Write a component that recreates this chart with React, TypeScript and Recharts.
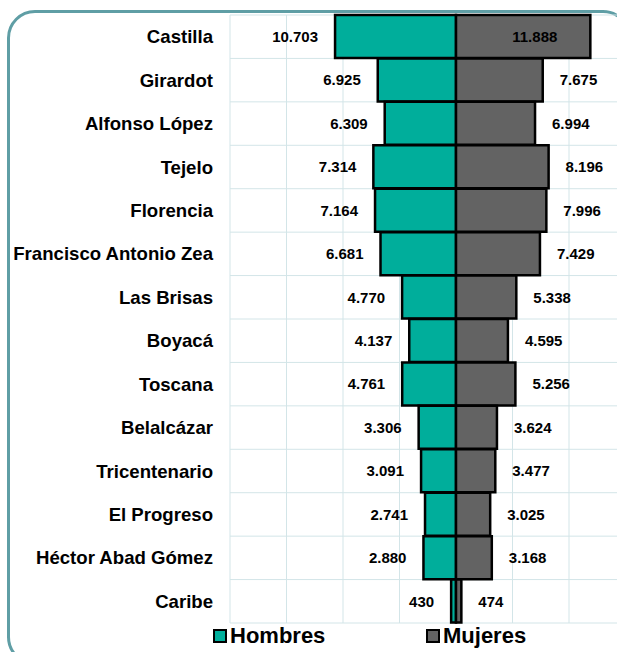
import React from "react";
import { BarChart, Bar, XAxis, YAxis, CartesianGrid, LabelList } from "recharts";

const categories = [
  "Castilla",
  "Girardot",
  "Alfonso López",
  "Tejelo",
  "Florencia",
  "Francisco Antonio Zea",
  "Las Brisas",
  "Boyacá",
  "Toscana",
  "Belalcázar",
  "Tricentenario",
  "El Progreso",
  "Héctor Abad Gómez",
  "Caribe",
];
const hombres = [10703, 6925, 6309, 7314, 7164, 6681, 4770, 4137, 4761, 3306, 3091, 2741, 2880, 430];
const mujeres = [11888, 7675, 6994, 8196, 7996, 7429, 5338, 4595, 5256, 3624, 3477, 3025, 3168, 474];
const seriesNames = ["Hombres", "Mujeres"];
const xTicks = [-20000, -15000, -10000, -5000, 0, 5000, 10000, 15000, 20000];

const TEAL = "#00ae9b";
const GRAY = "#636363";
const FONT = "'Liberation Sans', Arial, sans-serif";

const data = categories.map((name, i) => ({
  name,
  hombres: -hombres[i],
  mujeres: mujeres[i],
}));

const fmt = (v: number) =>
  String(Math.abs(Math.round(v))).replace(/\B(?=(\d{3})+(?!\d))/g, ".");

const ValueLabel = (side: "left" | "right") => (props: any) => {
  const { x, y, width, height, value } = props;
  const left = Math.min(x, x + width);
  const right = Math.max(x, x + width);
  const cy = y + height / 2;
  let tx = side === "left" ? left - 17 : right + 17;
  let anchor: "start" | "end" = side === "left" ? "end" : "start";
  // too wide to fit outside on the right: put it inside the bar
  if (side === "right" && Math.abs(value) > 10000) {
    tx = right - 33;
    anchor = "end";
  }
  return (
    <text
      x={tx}
      y={cy}
      textAnchor={anchor}
      dominantBaseline="central"
      fontFamily={FONT}
      fontSize={15}
      fontWeight="bold"
      fill="#000"
    >
      {fmt(value)}
    </text>
  );
};

export default function App() {
  const xMin = xTicks[0];
  const xMax = xTicks[xTicks.length - 1];
  const n = categories.length;
  return (
    <div
      style={{
        position: "absolute",
        left: 0,
        top: 0,
        width: 617,
        height: 652,
        overflow: "hidden",
        background: "#fff",
        fontFamily: FONT,
      }}
    >
      <div
        style={{
          position: "absolute",
          left: 7,
          top: 10,
          width: 624,
          height: 655,
          boxSizing: "border-box",
          border: "3px solid #5f9ea5",
          borderRadius: 28,
        }}
      />
      <div style={{ position: "absolute", left: 0, top: 0 }}>
        <BarChart
          width={700}
          height={652}
          data={data}
          layout="vertical"
          stackOffset="sign"
          barCategoryGap={0}
          margin={{ top: 15, right: 18, bottom: 29, left: 0 }}
        >
          <CartesianGrid
            stroke="#d3e5e8"
            strokeWidth={1}
            verticalCoordinatesGenerator={({ offset }: any) =>
              xTicks.map((t) => offset.left + ((t - xMin) / (xMax - xMin)) * offset.width)
            }
            horizontalCoordinatesGenerator={({ offset }: any) =>
              Array.from({ length: n + 1 }, (_, i) => offset.top + (i * offset.height) / n)
            }
          />
          <XAxis type="number" domain={[xMin, xMax]} ticks={xTicks} hide />
          <YAxis
            type="category"
            dataKey="name"
            width={230}
            axisLine={false}
            tickLine={false}
            tickSize={0}
            tickMargin={17}
            interval={0}
            tick={{ fontFamily: FONT, fontSize: 18.6, fontWeight: "bold", fill: "#000" }}
          />
          <Bar
            dataKey="hombres"
            name={seriesNames[0]}
            stackId="a"
            fill={TEAL}
            stroke="#000"
            strokeWidth={2.5}
            isAnimationActive={false}
          >
            <LabelList dataKey="hombres" content={ValueLabel("left")} />
          </Bar>
          <Bar
            dataKey="mujeres"
            name={seriesNames[1]}
            stackId="a"
            fill={GRAY}
            stroke="#000"
            strokeWidth={2.5}
            isAnimationActive={false}
          >
            <LabelList dataKey="mujeres" content={ValueLabel("right")} />
          </Bar>
        </BarChart>
      </div>
      {seriesNames.map((s, i) => (
        <div
          key={s}
          style={{
            position: "absolute",
            left: i === 0 ? 213 : 426,
            top: 623,
            display: "flex",
            alignItems: "center",
            fontSize: 22,
            fontWeight: "bold",
            color: "#000",
          }}
        >
          <span
            style={{
              display: "inline-block",
              width: 14,
              height: 14,
              boxSizing: "border-box",
              border: "2.5px solid #000",
              background: i === 0 ? TEAL : GRAY,
              marginRight: 3,
            }}
          />
          {s}
        </div>
      ))}
    </div>
  );
}
